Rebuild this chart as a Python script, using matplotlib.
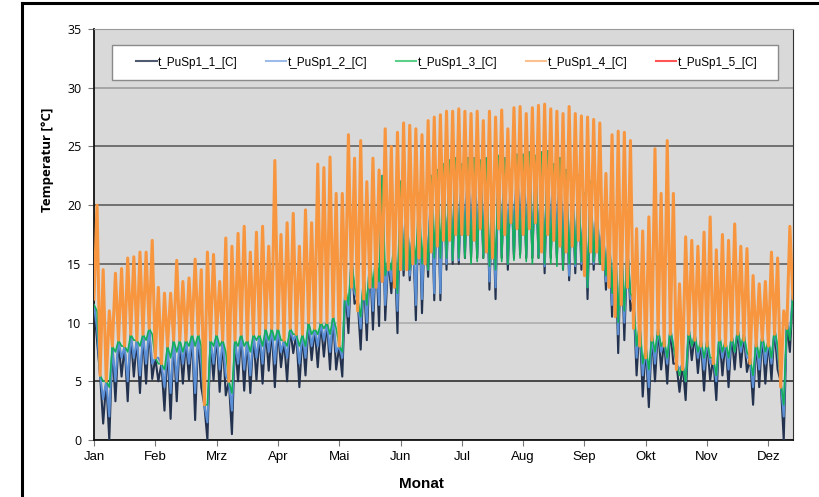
import numpy as np
import matplotlib
matplotlib.use("Agg")
import matplotlib.pyplot as plt
from matplotlib.lines import Line2D
from matplotlib.patches import Rectangle

# Monatsnamen (Achse in Monaten, 10 Stuetzstellen je Monat)
monate = ["Jan", "Feb", "Mrz", "Apr", "Mai", "Jun", "Jul", "Aug", "Sep", "Okt", "Nov", "Dez"]
legend_names = ["t_PuSp1_1_[C]", "t_PuSp1_2_[C]", "t_PuSp1_3_[C]", "t_PuSp1_4_[C]", "t_PuSp1_5_[C]"]

# t_PuSp1_4: Spitzenwerte und Tiefpunkte
t4_hi = [20, 14.5, 11, 14.2, 14.6, 15.5, 15.6, 16, 16, 17,
         13, 12.5, 12.5, 15.3, 13.5, 13.8, 15.4, 14.5, 16, 15.8,
         13.5, 17.2, 16.5, 17.6, 18.2, 16, 17.7, 18.2, 16.5, 23.8,
         17.5, 18.5, 19.3, 16.5, 19.6, 18.5, 23.5, 23.2, 24.1, 21,
         21, 26, 24, 25.5, 22, 24, 23, 26.5, 25, 26.2,
         27, 26.8, 26.5, 26, 27.2, 27.5, 27.7, 28, 28, 28.2,
         28, 27.8, 28, 27.2, 28, 27.5, 28.1, 26.5, 28.3, 28.4,
         27.8, 28.3, 28.5, 28.6, 28.2, 28, 27.8, 28.4, 27.8, 27.6,
         27.5, 27.3, 27, 22.7, 26, 26.3, 26.2, 25.5, 18, 17.8,
         19, 24.8, 21, 25.5, 21, 13.3, 17.3, 17, 16.5, 17.7,
         19, 16.2, 17.5, 17, 18.4, 16.5, 16.3, 14, 13.3, 13.5,
         16, 15.5, 11, 18.2, 16.5]
t4_lo = [12, 5.5, 5, 8, 8.5, 8, 9, 8.5, 9, 9.5,
         7, 6.5, 8, 8.5, 8.5, 8.5, 9, 9, 3, 8.5,
         9, 8.5, 5, 8.5, 9, 8.5, 9, 9, 9.5, 9.5,
         9.5, 8.5, 9.5, 9, 9, 10, 9.5, 10, 10, 10.5,
         8, 12, 13, 11, 12, 13, 13, 13.5, 14.5, 13,
         14.5, 14.5, 15, 15.5, 15, 16, 16.5, 17, 17, 17.5,
         17.5, 17.5, 17, 18, 16, 15.5, 18, 17.5, 18.5, 18,
         17.5, 18, 18.5, 16, 17.5, 17, 16.5, 16, 16.5, 17,
         14, 16, 16, 14.5, 13, 10.5, 11.5, 13, 9.5, 8,
         7, 8.5, 9, 8, 9, 6, 6, 9, 8.5, 8,
         8, 6.5, 8.5, 8, 8.5, 9, 8.5, 6.5, 8, 8.5,
         8, 9, 4.5, 9.5, 12]

# t_PuSp1_3
t3_hi = [11.5, 5.5, 5, 8, 8.5, 8, 9, 8.5, 9, 9.5,
         7, 6.5, 8, 8.5, 8.5, 8.5, 9, 9, 3, 8.5,
         9, 8.5, 5, 8.5, 9, 8.5, 9, 9, 9.5, 9.5,
         9.5, 8.5, 9.5, 9, 9, 10, 9.5, 10, 10, 10.5,
         8, 13, 15.5, 12, 14, 15.5, 16, 22.5, 15.5, 17,
         22, 20, 18, 21, 19, 22.5, 23, 23.5, 23.8, 24,
         23.5, 24, 24, 23.8, 24, 21, 24.2, 24, 23, 24.3,
         24.3, 24.5, 24.2, 24.5, 24.6, 23.5, 24, 23, 22, 22.5,
         21, 22, 20, 18.5, 18, 17.5, 17, 16.5, 12, 10,
         8, 9, 9.5, 8.5, 9.5, 6.5, 6.5, 9.5, 9, 8.5,
         8.5, 7, 9, 8.5, 9, 9.5, 9, 7, 8.5, 9,
         8.5, 9.5, 5, 10, 12.5]
t3_lo = [11, 5, 4.5, 7.5, 8, 7.5, 8.5, 8, 8.5, 9,
         6.5, 6, 7, 7.5, 7.5, 8, 8, 8, 3, 8,
         8, 7.5, 4, 8, 8, 7.5, 8.5, 8, 8.5, 8.5,
         8.5, 8, 9, 8, 8, 9, 9, 9.5, 9, 9.5,
         7.5, 11.5, 13, 10.5, 11.5, 13, 13.5, 14, 14.5, 12.5,
         14.5, 14.5, 15, 15, 14.5, 15.5, 15.5, 15.5, 15.3, 15.5,
         15.5, 15, 15.2, 15.5, 14.8, 14.5, 15.2, 15, 15.3, 15.5,
         15.2, 15, 15.5, 15, 15, 14.8, 14.5, 15, 15, 15.2,
         13, 15.2, 15, 14, 12.5, 10, 11, 12.5, 8, 6.5,
         6, 7.5, 8, 7, 8, 5.5, 5, 8, 7.5, 7,
         7, 5.5, 7.5, 7, 7.5, 8, 7.5, 5.5, 7, 7.5,
         7, 8, 3, 8.5, 11.5]

# t_PuSp1_2 Tiefpunkte
t2_lo = [9.5, 3.5, 2, 5, 7, 5, 7, 5.5, 6.5, 6.5,
         7, 4.5, 4, 5, 6.5, 6.5, 4, 6.5, 1.5, 6.5,
         6, 5.5, 2.5, 6.5, 6, 5.5, 7, 6.5, 7.5, 6.5,
         7.5, 7, 8.5, 6.5, 7, 8, 8, 8.5, 7.5, 7.5,
         7, 10.5, 12.5, 9.5, 10, 11, 11.5, 11.5, 13.5, 11,
         14.5, 14, 11.5, 12, 14.5, 12.5, 12.5, 15, 15.3, 15.3,
         15.8, 15.8, 15.8, 15.8, 13.5, 13, 15.8, 15, 15.8, 16,
         15.8, 15.8, 15.8, 14.8, 15.8, 15.8, 15, 14, 14.8, 15,
         13, 15, 15.3, 13.5, 11.5, 9, 10, 12, 7, 5.5,
         4.5, 6.5, 7.5, 6.5, 8, 6, 5, 8, 7, 6,
         6.5, 5, 7, 6, 7.5, 7.5, 7, 4.5, 6, 6.5,
         6.5, 7.5, 2, 9, 11]

# t_PuSp1_1 Tiefpunkte
t1_lo = [8.5, 1.4, 0, 3.3, 5.4, 3.3, 5.4, 4, 4.8, 5.2,
         5, 2.5, 1.8, 3.3, 4.8, 5.1, 1.7, 4.5, 0, 5.1,
         4.1, 3.8, 0.5, 5, 4.2, 4, 5.1, 4.8, 5.9, 4.5,
         6.2, 5, 7.4, 4.5, 5.5, 6.8, 6.2, 7.1, 6, 6,
         5.4, 9.1, 11.6, 7.7, 8.5, 9.4, 9.7, 10.2, 12.5, 9.1,
         14, 13.6, 10.2, 10.8, 13.9, 11.9, 11.9, 14.5, 15, 15,
         15.5, 15.5, 15.5, 15.5, 12.8, 12, 15.5, 14.5, 15.5, 15.8,
         15.5, 15.5, 15.5, 14.2, 15.5, 15.5, 14.5, 13.6, 14.2, 14.5,
         12, 14.5, 15, 12.8, 10.5, 7.4, 8.5, 11, 5.5, 3.7,
         2.8, 5, 6, 4.8, 6.5, 4.1, 3.4, 6.8, 5.7, 4.2,
         5.1, 3.4, 5.5, 4.5, 6, 6.2, 5.8, 3, 4.5, 4.8,
         5.1, 6, 0, 7.5, 10]

# t_PuSp1_5 enthaelt keine Werte
t5 = []

farben = ["#22324f", "#5b8fd6", "#12b05a", "#f7963f", "#ff0000"]
legend_farben = ["#4d5a70", "#9dbbe8", "#5ccf8a", "#fbc08d", "#ff5555"]
breiten = [1.5, 1.5, 1.2, 2.2]

x = np.arange(len(t4_hi)) * 0.1


def zickzack(a, b):
    # abwechselnd Wert a (an x) und Wert b (halber Schritt spaeter)
    xs = np.empty(2 * len(x))
    ys = np.empty(2 * len(x))
    xs[0::2] = x
    xs[1::2] = x + 0.05
    ys[0::2] = a
    ys[1::2] = b
    return xs, ys


fig = plt.figure(figsize=(8.2, 4.97), dpi=100)
fig.patch.set_facecolor("white")
ax = fig.add_axes([0.1146, 0.1147, 0.8524, 0.8269])
ax.set_facecolor("#d9d9d9")

serien = [(t3_hi, t1_lo), (t3_hi, t2_lo), (t3_hi, t3_lo), (t4_lo, t4_hi)]
for (a, b), c, w in zip(serien, farben, breiten):
    xs, ys = zickzack(a, b)
    ax.plot(xs, ys, color=c, lw=w, zorder=3)
ax.plot(x[:len(t5)], t5, color=farben[4], lw=1.5, zorder=4)

ax.set_xlim(0, 11.4)
ax.set_ylim(0, 35)
ax.set_xticks(range(12))
ax.set_xticklabels(monate, family=["Liberation Sans", "DejaVu Sans"], fontsize=9.5)
ax.set_yticks(range(0, 36, 5))
ax.set_yticklabels([str(v) for v in range(0, 36, 5)],
                   family=["Open Sans", "DejaVu Sans"], fontsize=9)
ax.tick_params(axis="both", direction="out", length=4, color="#777777", pad=5)
ax.tick_params(axis="x", pad=4)

ax.grid(axis="y", color="#555555", lw=1.1, zorder=1)
gl = ax.get_ygridlines()
gl[1].set_color("#222222")
gl[2].set_color("#aaaaaa")
gl[6].set_color("#999999")

for s in ["left", "bottom"]:
    ax.spines[s].set_color("#111111")
    ax.spines[s].set_linewidth(1.3)
ax.spines["right"].set_color("#333333")
ax.spines["top"].set_color("#999999")

ax.set_ylabel("Temperatur [°C]", family=["Open Sans", "DejaVu Sans"],
              fontsize=9.5, fontweight="bold", va="center")
ax.yaxis.set_label_coords(-0.067, 0.681)
ax.set_xlabel("Monat", family=["Liberation Sans", "DejaVu Sans"],
              fontsize=11, fontweight="bold", va="center")
ax.xaxis.set_label_coords(0.468, -0.107)

# Legendenkasten
ax.add_patch(Rectangle((0.0258, 0.876), 0.953, 0.085, transform=ax.transAxes,
                       facecolor="white", edgecolor="#8a8a8a", lw=1.0, zorder=5))
handles = [Line2D([], [], color=c, lw=1.5) for c in legend_farben]
leg = ax.legend(handles, legend_names, ncol=5, loc="center",
                bbox_to_anchor=(0.505, 0.9185),
                prop={"family": ["Liberation Sans", "DejaVu Sans"], "size": 8.5},
                handlelength=1.7, handletextpad=0.15, columnspacing=2.4,
                borderpad=0.2, frameon=False)
leg.set_zorder(6)

# Rahmen oben und links
fig.add_artist(Line2D([22 / 820, 22 / 820], [0, 1 - 3 / 497], color="black", lw=2.2))
fig.add_artist(Line2D([22 / 820, 1], [1 - 3 / 497, 1 - 3 / 497], color="black", lw=2.2))

fig.savefig("out.png", dpi=100)
